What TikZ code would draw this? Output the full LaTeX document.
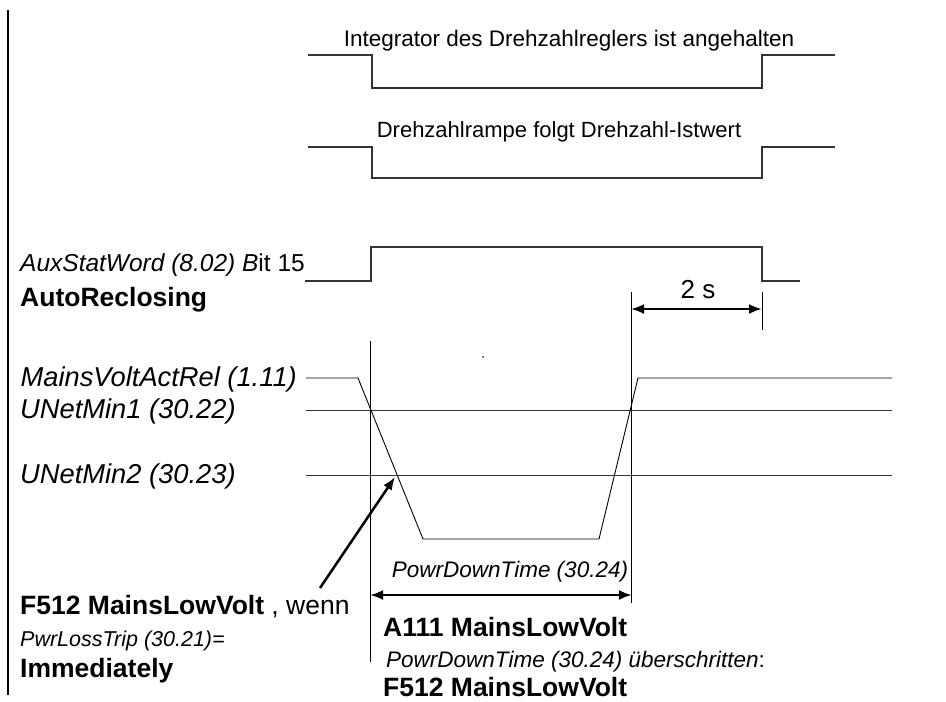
\documentclass[tikz,border=0pt]{standalone}
\usepackage{fontspec}
\setmainfont{Liberation Sans}
\usetikzlibrary{arrows.meta,positioning}

\begin{document}
\begin{tikzpicture}[x=1pt, y=-1pt,
  sig/.style={line width=1.1pt, draw=black!80},
  refline/.style={line width=0.9pt, draw=black!80},
  volt/.style={line width=0.9pt},
  lbl/.style={font=\fontsize{22.5}{27}\selectfont, inner sep=0pt},
  biglbl/.style={font=\fontsize{27.3}{32}\selectfont, inner sep=0pt},
  boldlbl/.style={font=\fontsize{26.5}{32}\selectfont\bfseries, inner sep=0pt},
  dim/.style={{Latex[length=13pt,width=10pt]}-{Latex[length=13pt,width=10pt]}, line width=2.5pt},
  pointer/.style={-{Latex[length=13pt,width=10pt]}, line width=2.5pt}
]
\useasboundingbox (0,0) rectangle (946,702);

% left frame line
\draw[line width=1.2pt] (8,10) -- (8,695);

% integrator signal
\draw[sig] (308,55) -- (372,55) -- (372,88) -- (762,88) -- (762,55) -- (835,55);
\node[lbl] (integ) at (569,41) {Integrator des Drehzahlreglers ist angehalten};

% speed ramp signal
\draw[sig] (308,147) -- (372,147) -- (372,178) -- (762,178) -- (762,147) -- (835,147);
\node[font=\fontsize{22}{26}\selectfont, inner sep=0pt] (rampe) at (559,132) {Drehzahlrampe folgt Drehzahl-Istwert};

% AuxStatWord bit 15
\draw[sig] (305,281) -- (371,281) -- (371,247) -- (762,247) -- (762,281) -- (800,281);
\node[font=\fontsize{24.5}{29}\selectfont, inner sep=0pt, anchor=base west] (auxstat) at (20,271) {\textit{AuxStatWord (8.02) B}it 15};
\node[boldlbl, anchor=base west] (autorecl) at (20,306) {AutoReclosing};

% 2 s delay
\coordinate (dl) at (631,309);
\coordinate (dr) at (762,309);
\draw[volt] (631,292) -- (631,603);
\draw[volt] (762,292) -- (762,330);
\draw[dim] (dl) -- (dr);
\node[font=\fontsize{26}{30}\selectfont, inner sep=0pt] (twos) at (698,290) {2 s};

% mains voltage and thresholds
\draw[refline] (306,410) -- (892,410);
\draw[refline] (306,475) -- (892,475);
\draw[volt] (306,378) -- (358,378) -- (423,539) -- (599,539) -- (638,378) -- (892,378);
\draw[volt] (370,341) -- (370,662);
\fill (483,357) circle (0.8);

\node[biglbl, anchor=base east] (mainsvolt) at (297,386) {\textit{MainsVoltActRel (1.11)}};
\node[biglbl, anchor=base west] (unet1) at (20,418) {\textit{UNetMin1 (30.22)}};
\node[biglbl, anchor=base west] (unet2) at (20,483) {\textit{UNetMin2 (30.23)}};

% power down time
\coordinate (pl) at (370,595);
\coordinate (pr) at (632,595);
\draw[dim] (pl) -- (pr);
\node[lbl] (pdt) at (510,572) {\textit{PowrDownTime (30.24)}};

% trip pointer
\coordinate (trip) at (395,477);
\coordinate (tail) at (320,588);
\draw[pointer] (tail) -- (trip);

% bottom texts
\node[boldlbl, anchor=base west] (f512a) at (20,614) {F512 MainsLowVolt\mdseries\ , wenn};
\node[font=\fontsize{21.5}{26}\selectfont, inner sep=0pt, anchor=base west] (pwrloss) at (20,646) {\textit{PwrLossTrip (30.21)=}};
\node[boldlbl, anchor=base west] (immed) at (20,677) {Immediately};
\node[boldlbl, anchor=base west] (a111) at (383,636) {A111 MainsLowVolt};
\node[lbl, anchor=base west] (pdtover) at (386,667) {\textit{PowrDownTime (30.24) überschritten}:};
\node[boldlbl, anchor=base west] (f512b) at (383,696) {F512 MainsLowVolt};
\end{tikzpicture}
\end{document}
